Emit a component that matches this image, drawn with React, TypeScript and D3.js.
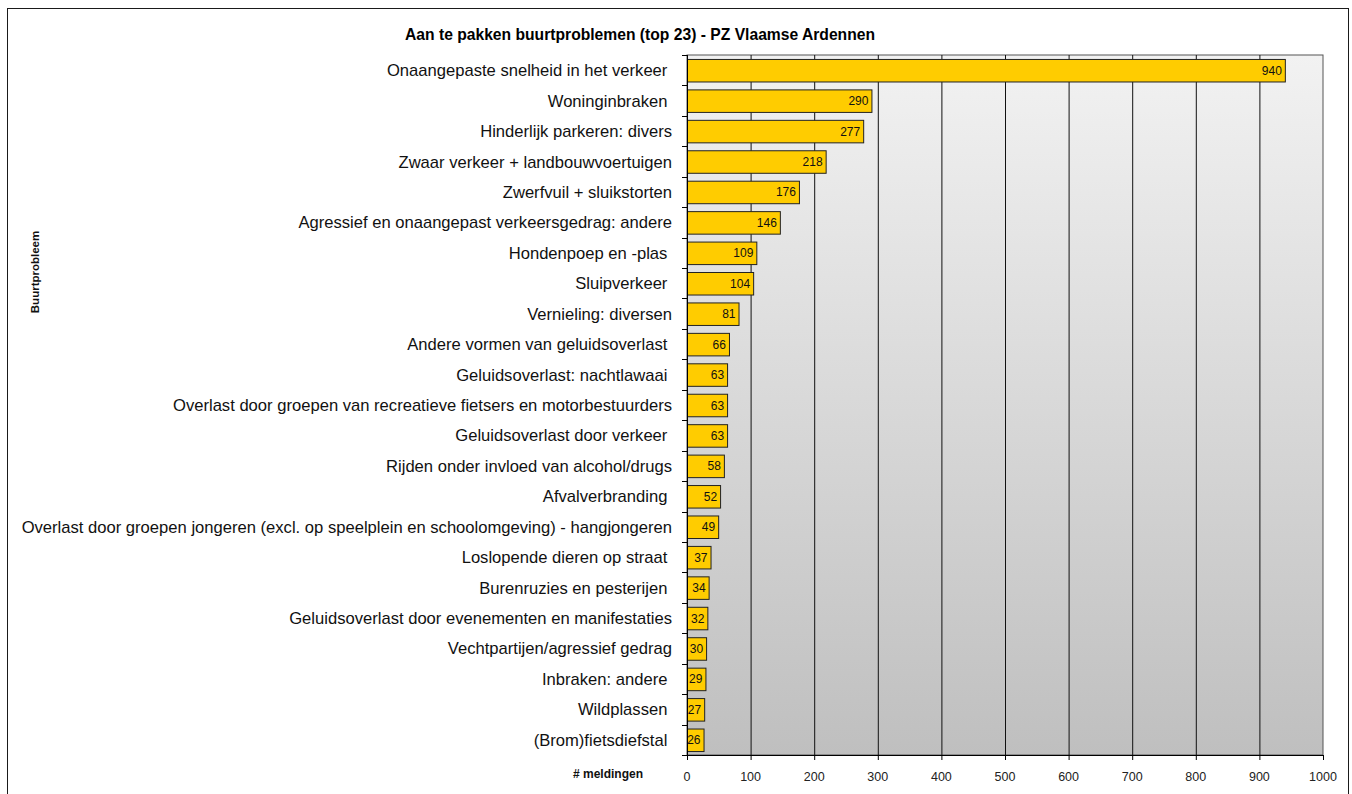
import React from "react";
import * as d3 from "d3";

const categories: string[] = [
  "Onaangepaste snelheid in het verkeer ",
  "Woninginbraken ",
  "Hinderlijk parkeren: divers",
  "Zwaar verkeer + landbouwvoertuigen",
  "Zwerfvuil + sluikstorten",
  "Agressief en onaangepast verkeersgedrag: andere",
  "Hondenpoep en -plas ",
  "Sluipverkeer ",
  "Vernieling: diversen",
  "Andere vormen van geluidsoverlast ",
  "Geluidsoverlast: nachtlawaai ",
  "Overlast door groepen van recreatieve fietsers en motorbestuurders",
  "Geluidsoverlast door verkeer ",
  "Rijden onder invloed van alcohol/drugs",
  "Afvalverbranding ",
  "Overlast door groepen jongeren (excl. op speelplein en schoolomgeving) - hangjongeren",
  "Loslopende dieren op straat ",
  "Burenruzies en pesterijen ",
  "Geluidsoverlast door evenementen en manifestaties",
  "Vechtpartijen/agressief gedrag",
  "Inbraken: andere ",
  "Wildplassen ",
  "(Brom)fietsdiefstal ",
];
const values: number[] = [940, 290, 277, 218, 176, 146, 109, 104, 81, 66, 63, 63, 63, 58, 52, 49, 37, 34, 32, 30, 29, 27, 26];
const xTicks: number[] = [0, 100, 200, 300, 400, 500, 600, 700, 800, 900, 1000];
const title = "Aan te pakken buurtproblemen (top 23) - PZ Vlaamse Ardennen";
const yTitle = "Buurtprobleem";
const xTitle = "# meldingen";

export default function App() {
  const W = 1352, H = 794;
  const left = 687, right = 1323, top = 55, bottom = 755;
  const x = d3.scaleLinear().domain([0, 1000]).range([left, right]);
  const y = d3.scaleBand<string>().domain(categories.map((c, i) => i + "")).range([top, bottom]).paddingInner(0.26).paddingOuter(0.13);
  const step = y.step();
  const font = "Arial, 'Liberation Sans', sans-serif";
  return (
    <svg width={W} height={H} style={{ position: "absolute", left: 0, top: 0, fontFamily: font }}>
      <defs>
        <linearGradient id="bg" x1="0" y1="0" x2="0" y2="1">
          <stop offset="0" stopColor="#f2f2f2" />
          <stop offset="1" stopColor="#bfbfbf" />
        </linearGradient>
      </defs>
      <rect x={0} y={0} width={W} height={H} fill="#fff" />
      <rect x={7.5} y={8.5} width={1341} height={800} fill="none" stroke="#1a1a1a" strokeWidth={1} />
      <text x={640} y={40} textAnchor="middle" fontSize={17} fontWeight="bold" fill="#000" textLength={470} lengthAdjust="spacingAndGlyphs">{title}</text>
      <rect x={left} y={top} width={right - left} height={bottom - top} fill="url(#bg)" stroke="#555" strokeWidth={1} />
      {xTicks.slice(1, -1).map((t) => (
        <line key={"g" + t} x1={x(t) + 0.5} x2={x(t) + 0.5} y1={top} y2={bottom} stroke="#111" strokeWidth={1} />
      ))}
      {values.map((v, i) => (
        <rect key={"b" + i} x={x(0) + 0.5} y={(y(i + "") as number) + 0.5} width={x(v) - x(0)} height={y.bandwidth()} fill="#FFCC00" stroke="#222" strokeWidth={1} />
      ))}
      {values.map((v, i) => (
        <text key={"v" + i} x={x(v) - 3} y={(y(i + "") as number) + y.bandwidth() / 2 + 4.5} textAnchor="end" fontSize={12} fill="#111">{v}</text>
      ))}
      <line x1={left + 0.5} x2={left + 0.5} y1={top} y2={bottom + 0.5} stroke="#000" />
      <line x1={left} x2={right + 0.5} y1={bottom + 0.5} y2={bottom + 0.5} stroke="#000" />
      {d3.range(categories.length + 1).map((i) => (
        <line key={"yt" + i} x1={left - 5} x2={left} y1={Math.round(top + i * step) + 0.5} y2={Math.round(top + i * step) + 0.5} stroke="#000" />
      ))}
      {xTicks.map((t) => (
        <g key={"xt" + t}>
          <line x1={x(t) + 0.5} x2={x(t) + 0.5} y1={bottom} y2={bottom + 5} stroke="#000" />
          <text x={x(t)} y={781} textAnchor="middle" fontSize={12.5} fill="#222">{t}</text>
        </g>
      ))}
      {categories.map((c, i) => (
        <text key={"c" + i} x={672} y={(y(i + "") as number) + y.bandwidth() / 2 + 6} textAnchor="end" fontSize={16.6} fill="#111" style={{ whiteSpace: "pre" }}>{c}</text>
      ))}
      <text x={608} y={778} textAnchor="middle" fontSize={12} fontWeight="bold" fill="#111">{xTitle}</text>
      <text transform="translate(39,272) rotate(-90)" textAnchor="middle" fontSize={11.5} fontWeight="bold" fill="#111">{yTitle}</text>
    </svg>
  );
}
